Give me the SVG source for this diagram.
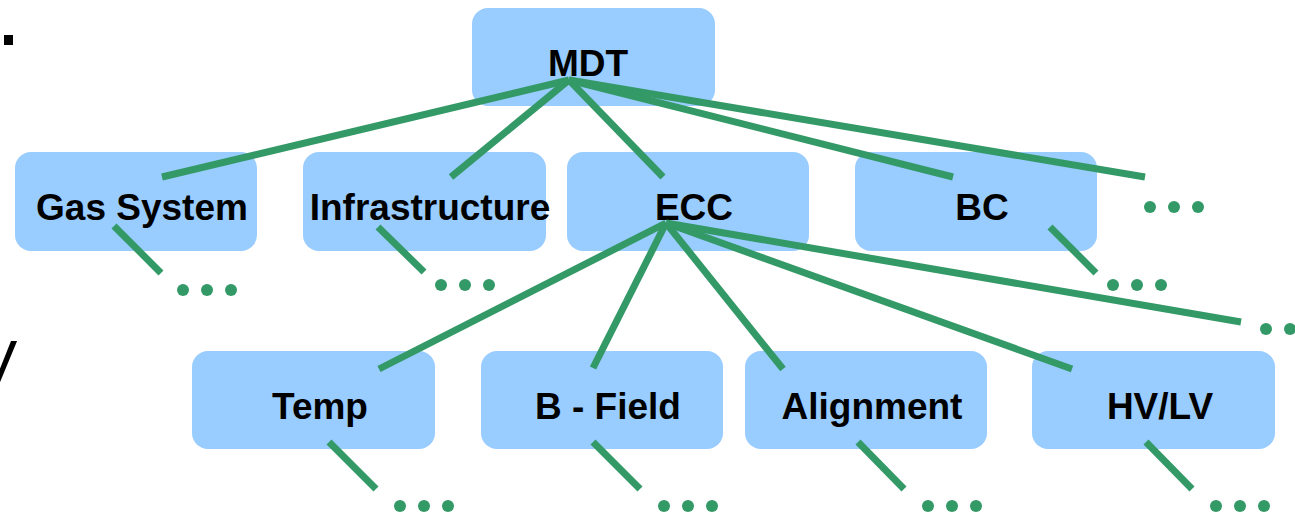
<svg xmlns="http://www.w3.org/2000/svg" width="1295" height="517" viewBox="0 0 1295 517">
  <style>
    .box { fill: #99CCFF; }
    .lbl { font-family: "Liberation Sans", Arial, sans-serif; font-weight: bold; font-size: 37px; fill: #000; text-anchor: middle; }
    .edge { stroke: #339966; stroke-width: 7; fill: none; stroke-linecap: butt; }
    .dot { fill: #339966; }
  </style>
  <defs>
    <g id="ellipsis">
      <circle class="dot" cx="0" cy="0" r="6"/>
      <circle class="dot" cx="24" cy="0" r="6"/>
      <circle class="dot" cx="48" cy="0" r="6"/>
    </g>
  </defs>
  <rect width="1295" height="517" fill="#fff"/>

  <!-- fragments at left margin -->
  <rect x="4" y="35" width="9" height="10" fill="#000"/>
  <text x="-24" y="383" font-family="Liberation Sans, Arial, sans-serif" font-size="62" fill="#000">V</text>

  <g id="node-mdt">
    <rect class="box" x="472" y="8" width="243" height="98" rx="16"/>
    <text class="lbl" x="588" y="76">MDT</text>
  </g>
  <g id="node-gas">
    <rect class="box" x="15" y="152" width="242" height="99" rx="16"/>
    <text class="lbl" x="142" y="220">Gas System</text>
  </g>
  <g id="node-infra">
    <rect class="box" x="303" y="152" width="243" height="99" rx="16"/>
    <text class="lbl" x="430" y="220">Infrastructure</text>
  </g>
  <g id="node-ecc">
    <rect class="box" x="567" y="152" width="242" height="99" rx="16"/>
    <text class="lbl" x="694" y="220">ECC</text>
  </g>
  <g id="node-bc">
    <rect class="box" x="855" y="152" width="242" height="99" rx="16"/>
    <text class="lbl" x="982" y="220">BC</text>
  </g>
  <g id="node-temp">
    <rect class="box" x="192" y="351" width="243" height="98" rx="16"/>
    <text class="lbl" x="320" y="419">Temp</text>
  </g>
  <g id="node-bfield">
    <rect class="box" x="481" y="351" width="242" height="98" rx="16"/>
    <text class="lbl" x="608" y="419">B - Field</text>
  </g>
  <g id="node-align">
    <rect class="box" x="745" y="351" width="242" height="98" rx="16"/>
    <text class="lbl" x="872" y="419">Alignment</text>
  </g>
  <g id="node-hvlv">
    <rect class="box" x="1032" y="351" width="243" height="98" rx="16"/>
    <text class="lbl" x="1160" y="419">HV/LV</text>
  </g>

  <g id="connectors">
    <!-- MDT fan-out -->
    <line class="edge" x1="569" y1="80" x2="162" y2="177"/>
    <line class="edge" x1="569" y1="80" x2="451" y2="177"/>
    <line class="edge" x1="569" y1="80" x2="663" y2="177"/>
    <line class="edge" x1="569" y1="80" x2="953" y2="177"/>
    <line class="edge" x1="569" y1="80" x2="1145" y2="177"/>
    <!-- ECC fan-out -->
    <line class="edge" x1="666" y1="223" x2="379" y2="369"/>
    <line class="edge" x1="666" y1="223" x2="593" y2="368"/>
    <line class="edge" x1="666" y1="223" x2="783" y2="369"/>
    <line class="edge" x1="666" y1="223" x2="1072" y2="369"/>
    <line class="edge" x1="666" y1="223" x2="1241" y2="322"/>
    <!-- stubs toward further children -->
    <line class="edge" x1="114" y1="226" x2="161" y2="273"/>
    <line class="edge" x1="378" y1="227" x2="424" y2="272"/>
    <line class="edge" x1="1050" y1="227" x2="1096" y2="273"/>
    <line class="edge" x1="329" y1="442" x2="376" y2="489"/>
    <line class="edge" x1="593" y1="442" x2="640" y2="489"/>
    <line class="edge" x1="858" y1="442" x2="904" y2="489"/>
    <line class="edge" x1="1146" y1="442" x2="1192" y2="489"/>
    <!-- ellipses -->
    <use href="#ellipsis" x="183" y="290"/>
    <use href="#ellipsis" x="441" y="285"/>
    <use href="#ellipsis" x="1113" y="285"/>
    <use href="#ellipsis" x="1150" y="207"/>
    <use href="#ellipsis" x="1266" y="329"/>
    <use href="#ellipsis" x="400" y="506"/>
    <use href="#ellipsis" x="664" y="506"/>
    <use href="#ellipsis" x="928" y="506"/>
    <use href="#ellipsis" x="1216" y="506"/>
  </g>
</svg>
